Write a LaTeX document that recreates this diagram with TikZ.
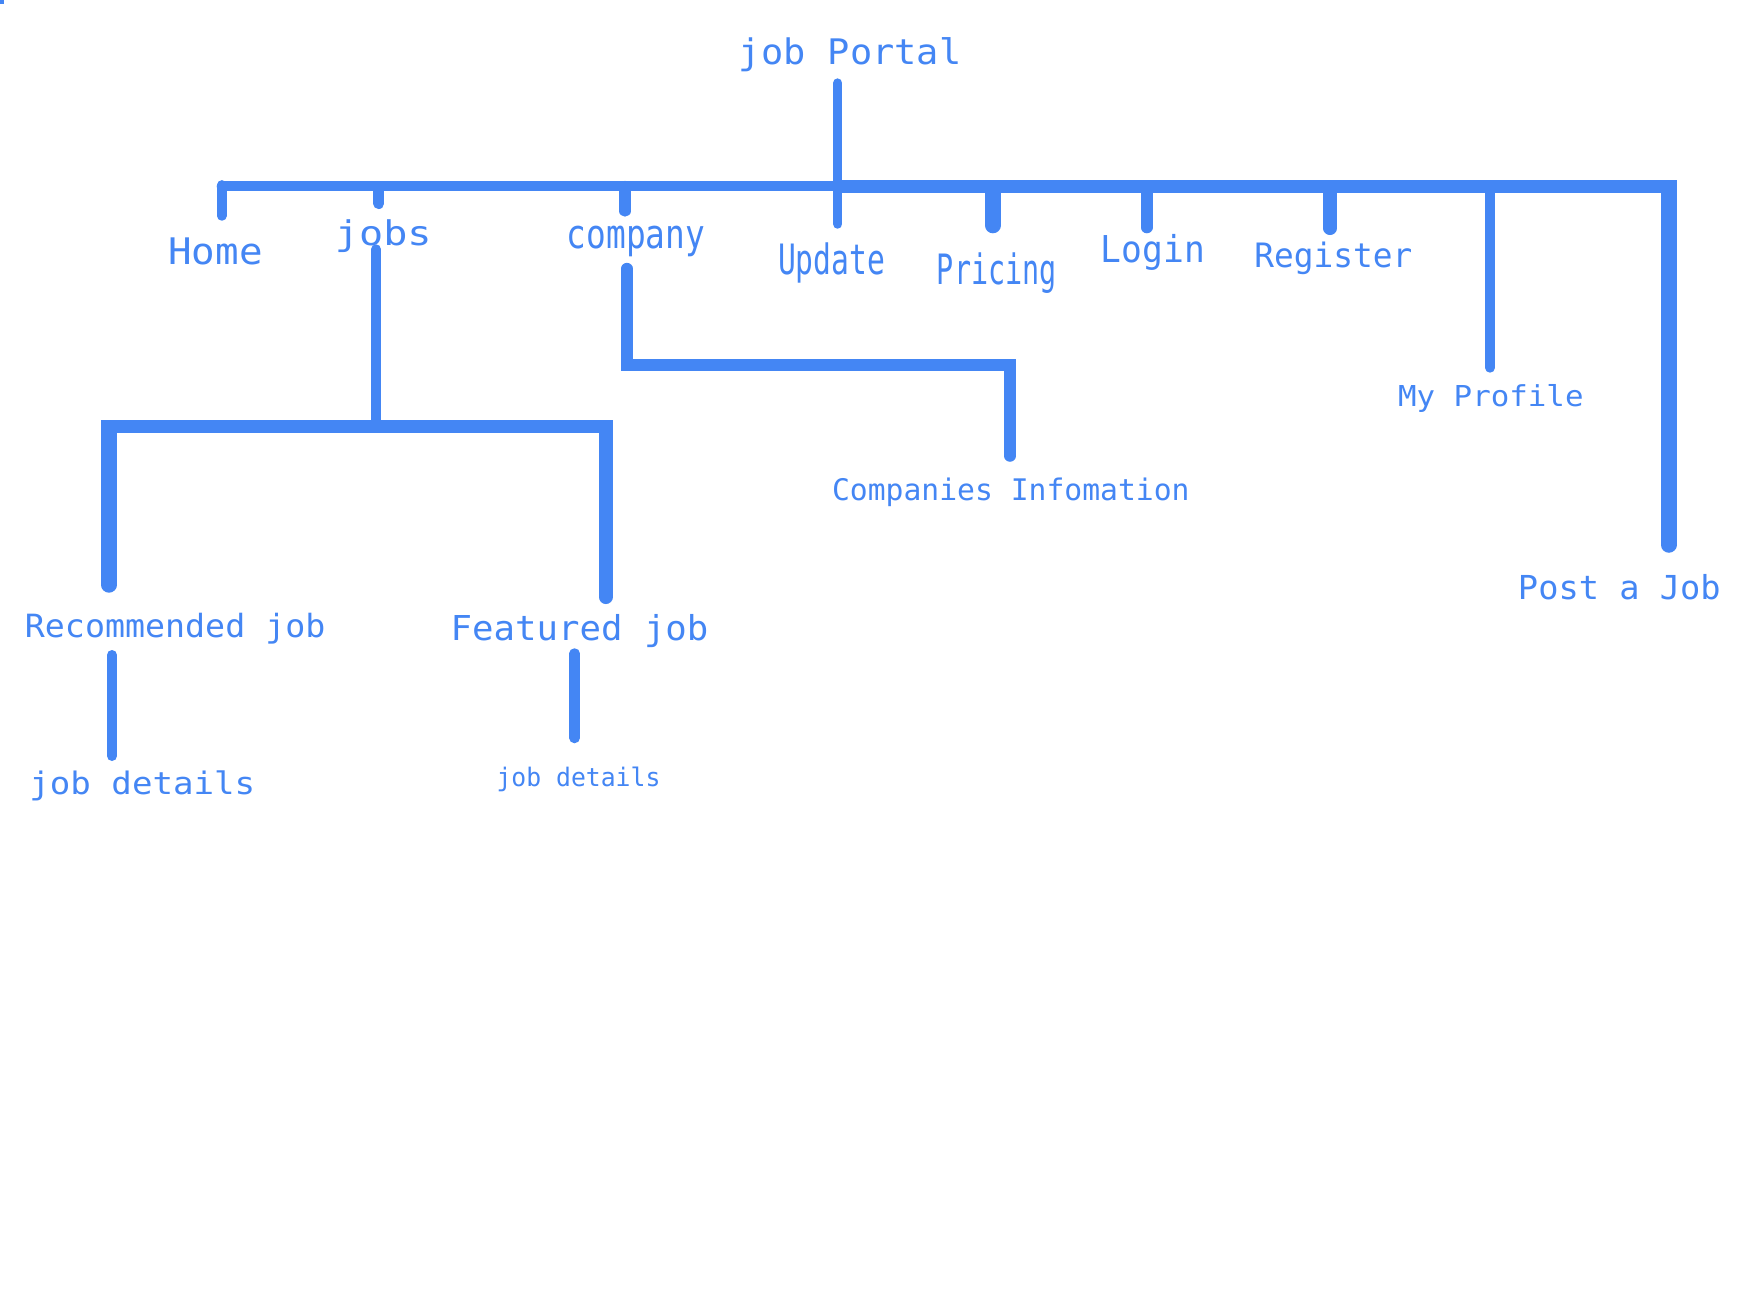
\documentclass[tikz,border=0pt]{standalone}
\usepackage{fontspec}
\usepackage{graphicx}
\newfontfamily\monofnt{DejaVu Sans Mono}
\definecolor{gblue}{HTML}{4486F4}
\newcommand\lbl[3]{\monofnt\fontsize{#1}{#1}\selectfont\scalebox{#2}[1]{#3}}
\tikzset{
  lab/.style={anchor=base, inner sep=0pt, text=gblue},
  conn/.style={draw=gblue, line cap=round, line join=miter},
  bar/.style={draw=gblue, line cap=butt, line join=miter},
}
\begin{document}
\begin{tikzpicture}[x=1pt,y=-1pt]
\useasboundingbox[fill=white] (0,0) rectangle (1750,1313);
\fill[gblue] (0,0) rectangle (4,4);

% labels
\node[lab] (root) at (850,65) {\lbl{35.2}{1.05}{job Portal}};
\node[lab] (home) at (215.5,265) {\lbl{36.6}{1.07}{Home}};
\node[lab] (jobs) at (383.3,245.5) {\lbl{34}{1.18}{jobs}};
\node[lab] (company) at (636,248.3) {\lbl{40}{0.82}{company}};
\node[lab] (update) at (831.7,275) {\lbl{41.8}{0.71}{Update}};
\node[lab] (pricing) at (996.8,285) {\lbl{41.8}{0.68}{Pricing}};
\node[lab] (login) at (1153,262.7) {\lbl{37}{0.935}{Login}};
\node[lab] (register) at (1333.4,267.3) {\lbl{33.6}{0.976}{Register}};
\node[lab] (profile) at (1490.8,406) {\lbl{28.8}{1.07}{My Profile}};
\node[lab] (post) at (1619.3,599) {\lbl{33}{1.02}{Post a Job}};
\node[lab] (compinfo) at (1010.8,500) {\lbl{29.7}{1.0}{Companies Infomation}};
\node[lab] (rec) at (175.2,637.3) {\lbl{32}{1.04}{Recommended job}};
\node[lab] (feat) at (579.6,640) {\lbl{34.3}{1.04}{Featured job}};
\node[lab] (det1) at (142.3,794) {\lbl{31}{1.10}{job details}};
\node[lab] (det2) at (578.5,786) {\lbl{25.5}{0.97}{job details}};

% connector end points
\coordinate (rootT) at (837.7,83.1);
\coordinate (rootB) at (837.7,224);
\coordinate (rootJ) at (837.7,186.5);
\coordinate (barL) at (221.7,186.5);
\coordinate (barR) at (1676.6,187);
\coordinate (rootJr) at (837.7,187);
\coordinate (homeT) at (221.7,185);
\coordinate (homeB) at (221.7,215.9);
\coordinate (jobsT) at (378.7,186.5);
\coordinate (jobsB) at (378.7,203.7);
\coordinate (compT) at (625,186.5);
\coordinate (compB) at (625,211);
\coordinate (pricT) at (992.8,188.4);
\coordinate (pricB) at (992.8,225.4);
\coordinate (logT) at (1146.8,187);
\coordinate (logB) at (1146.8,227.5);
\coordinate (regT) at (1330,187.2);
\coordinate (regB) at (1330,228.4);
\coordinate (profT) at (1490,187);
\coordinate (profB) at (1490,367.7);
\coordinate (postT) at (1668.8,188.4);
\coordinate (postB) at (1668.8,544.9);
\coordinate (jdT) at (376,249.3);
\coordinate (jdB) at (376,426.3);
\coordinate (jbL) at (101.3,426.3);
\coordinate (jbR) at (612.85,426.3);
\coordinate (recT) at (109,427.7);
\coordinate (recB) at (109,585);
\coordinate (featT) at (605.7,427.2);
\coordinate (featB) at (605.7,596.9);
\coordinate (cdT) at (626.8,268.6);
\coordinate (cdC) at (626.8,365);
\coordinate (cdR) at (1010,365);
\coordinate (cdB) at (1010,456);
\coordinate (d1T) at (112,655);
\coordinate (d1B) at (112,756);
\coordinate (d2T) at (574.6,653.5);
\coordinate (d2B) at (574.6,738);

% connectors
\draw[conn, line width=9.5pt] (rootT) -- (rootB);
\draw[conn, line width=10pt] (barL) -- (rootJ);
\draw[bar, line width=13pt] (rootJr) -- (barR);
\draw[conn, line width=9.7pt] (homeT) -- (homeB);
\draw[conn, line width=10.7pt] (jobsT) -- (jobsB);
\draw[conn, line width=11.3pt] (compT) -- (compB);
\draw[conn, line width=15.8pt] (pricT) -- (pricB);
\draw[conn, line width=11.6pt] (logT) -- (logB);
\draw[conn, line width=13.3pt] (regT) -- (regB);
\draw[conn, line width=10pt] (profT) -- (profB);
\draw[conn, line width=15.7pt] (postT) -- (postB);
\draw[conn, line width=10pt] (jdT) -- (jdB);
\draw[bar, line width=12.7pt] (jbL) -- (jbR);
\draw[conn, line width=15.4pt] (recT) -- (recB);
\draw[conn, line width=14.3pt] (featT) -- (featB);
\draw[conn, line width=11.5pt] (cdT) -- (cdC) -- (cdR) -- (cdB);
\draw[conn, line width=10pt] (d1T) -- (d1B);
\draw[conn, line width=10.5pt] (d2T) -- (d2B);
\end{tikzpicture}
\end{document}
